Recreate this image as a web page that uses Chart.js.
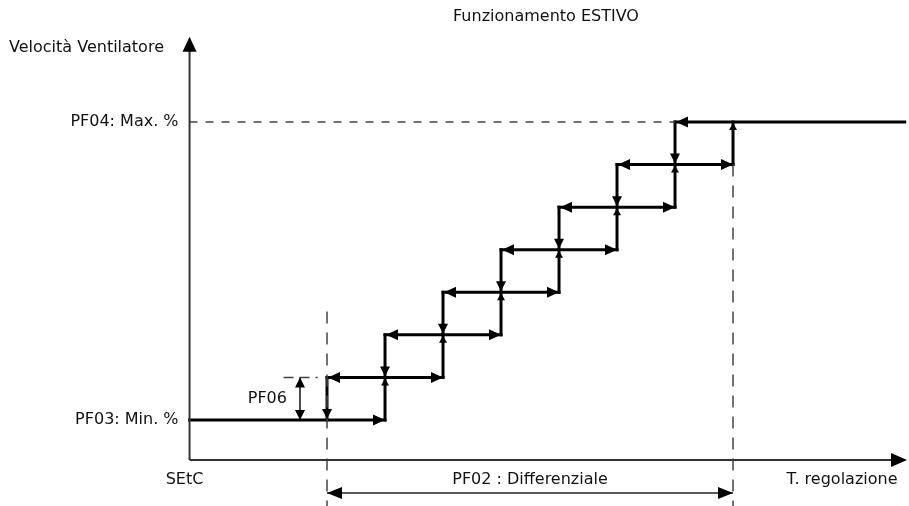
<!DOCTYPE html>
<html><head><meta charset="utf-8">
<script src="https://cdn.jsdelivr.net/npm/chart.js@4/dist/chart.umd.min.js"></script>
<style>html,body{margin:0;padding:0;background:#fff}#wrap{width:909px;height:506px}</style>
</head><body><div id="wrap"><canvas id="c" width="909" height="506"></canvas></div>
<script>
// ---- data ----
const chartTitle = 'Funzionamento ESTIVO';
const yAxisTitle = 'Velocità Ventilatore';
const xAxisTitle = 'T. regolazione';
const originLabel = 'SEtC';
const speedLevels = [0, 1, 2, 3, 4, 5, 6, 7];          // fan speed steps (0 = min, 7 = max)
const levelNames = ['PF03: Min. %', '', '', '', '', '', '', 'PF04: Max. %'];
const thresholds = [0, 1, 2, 3, 4, 5, 6, 7];            // switching points across the differential
const hysteresisLabel = 'PF06';
const differentialLabel = 'PF02 : Differenziale';

// ---- layout in data units ----
const X0 = -2.37, Y0 = -0.94, XEND = 10.0, YEND = 9.0;
const DIFF_Y = -1.715, PF06_X = -0.466;
const nL = speedLevels.length;
const lo = speedLevels[0], hi = speedLevels[nL - 1];

const datasets = [];
function seg(x1, y1, x2, y2, color, width, dash, cap) {
  datasets.push({
    data: [{x: x1, y: y1}, {x: x2, y: y2}],
    showLine: true, borderColor: color, borderWidth: width,
    borderDash: dash || [], borderCapStyle: cap || 'butt',
    pointRadius: 0, fill: false
  });
}
// axes
seg(X0, Y0, X0, YEND - 0.2, '#333', 2);
seg(X0, Y0, XEND - 0.2, Y0, '#333', 2);
// dashed guides
seg(X0, hi, thresholds[nL - 2], hi, '#444', 1.5, [8, 8]);
seg(thresholds[0], 2.55, thresholds[0], -2.1, '#444', 1.5, [12, 9]);
seg(thresholds[nL - 1], hi - 1, thresholds[nL - 1], -2.1, '#444', 1.5, [12, 9]);
seg(-0.75, speedLevels[1], -0.16, speedLevels[1], '#444', 1.5, [10, 6]);
// hysteresis & differential measures
seg(PF06_X, lo, PF06_X, speedLevels[1], '#111', 1.5);
seg(thresholds[0], DIFF_Y, thresholds[nL - 1], DIFF_Y, '#222', 1.5);
// staircase horizontals
speedLevels.forEach((lv, k) => {
  const xa = k === 0 ? X0 : thresholds[k - 1];
  const xb = k === nL - 1 ? XEND - 0.04 : thresholds[k + 1];
  seg(xa, lv, xb, lv, '#000', 3, null, 'square');
});
// staircase verticals
thresholds.forEach((tx, j) => {
  const ya = speedLevels[Math.max(j - 1, 0)];
  const yb = speedLevels[Math.min(j + 1, nL - 1)];
  seg(tx, ya, tx, yb, '#000', 3, null, 'square');
});

function arrow(ctx, x, y, dir, len, hw, color) {
  ctx.save();
  ctx.fillStyle = color || '#000';
  ctx.beginPath();
  if (dir === 'right') { ctx.moveTo(x, y); ctx.lineTo(x - len, y - hw); ctx.lineTo(x - len, y + hw); }
  if (dir === 'left')  { ctx.moveTo(x, y); ctx.lineTo(x + len, y - hw); ctx.lineTo(x + len, y + hw); }
  if (dir === 'up')    { ctx.moveTo(x, y); ctx.lineTo(x - hw, y + len); ctx.lineTo(x + hw, y + len); }
  if (dir === 'down')  { ctx.moveTo(x, y); ctx.lineTo(x - hw, y - len); ctx.lineTo(x + hw, y - len); }
  ctx.closePath(); ctx.fill();
  ctx.restore();
}

const decor = {
  id: 'decor',
  afterDatasetsDraw(chart) {
    const ctx = chart.ctx, xs = chart.scales.x, ys = chart.scales.y;
    const px = v => xs.getPixelForValue(v), py = v => ys.getPixelForValue(v);
    // axis arrows
    arrow(ctx, px(X0), py(YEND), 'up', 15, 7, '#000');
    arrow(ctx, px(XEND), py(Y0), 'right', 16, 7, '#000');
    // staircase horizontal arrows
    speedLevels.forEach((lv, k) => {
      if (k < nL - 1) arrow(ctx, px(thresholds[k + 1]), py(lv), 'right', 12, 5.5);
      if (k > 0) arrow(ctx, px(thresholds[k - 1]) + 1, py(lv), 'left', 12, 5.5);
    });
    // staircase vertical arrows
    thresholds.forEach((tx, j) => {
      if (j < nL - 1) arrow(ctx, px(tx), py(speedLevels[j]) - 1, 'down', 10, 5);
      if (j > 0) arrow(ctx, px(tx), py(speedLevels[j]) + 1, 'up', 7, 4);
    });
    // PF06
    arrow(ctx, px(PF06_X), py(speedLevels[1]), 'up', 10, 5);
    arrow(ctx, px(PF06_X), py(lo), 'down', 10, 5);
    // differential
    arrow(ctx, px(thresholds[0]), py(DIFF_Y), 'left', 15, 6, '#000');
    arrow(ctx, px(thresholds[nL - 1]), py(DIFF_Y), 'right', 15, 6, '#000');
    // texts
    ctx.save();
    ctx.font = '16px "DejaVu Sans"';
    ctx.fillStyle = '#111';
    ctx.textBaseline = 'middle';
    ctx.textAlign = 'center';
    ctx.fillText(chartTitle, 546, 17);
    ctx.textAlign = 'left';
    ctx.fillText(yAxisTitle, 9, 48);
    ctx.textAlign = 'right';
    speedLevels.forEach((lv, k) => { if (levelNames[k]) ctx.fillText(levelNames[k], px(X0) - 11, py(lv)); });
    ctx.fillText(hysteresisLabel, px(PF06_X) - 13, py((lo + speedLevels[1]) / 2));
    ctx.textAlign = 'center';
    ctx.fillText(originLabel, px(X0) - 5, py(Y0) + 20);
    ctx.fillText(differentialLabel, (px(thresholds[0]) + px(thresholds[nL - 1])) / 2, py(DIFF_Y) - 13);
    ctx.fillText(xAxisTitle, px(XEND) - 65, py(Y0) + 20);
    ctx.restore();
  }
};

new Chart(document.getElementById('c'), {
  type: 'scatter',
  data: { datasets },
  options: {
    responsive: false, animation: false,
    layout: { padding: 0 },
    plugins: { legend: { display: false }, tooltip: { enabled: false }, title: { display: false } },
    scales: {
      x: { type: 'linear', display: false, min: -5.638, max: 10.034 },
      y: { type: 'linear', display: false, min: -2.02, max: 9.866 }
    }
  },
  plugins: [decor]
});
</script></body></html>
